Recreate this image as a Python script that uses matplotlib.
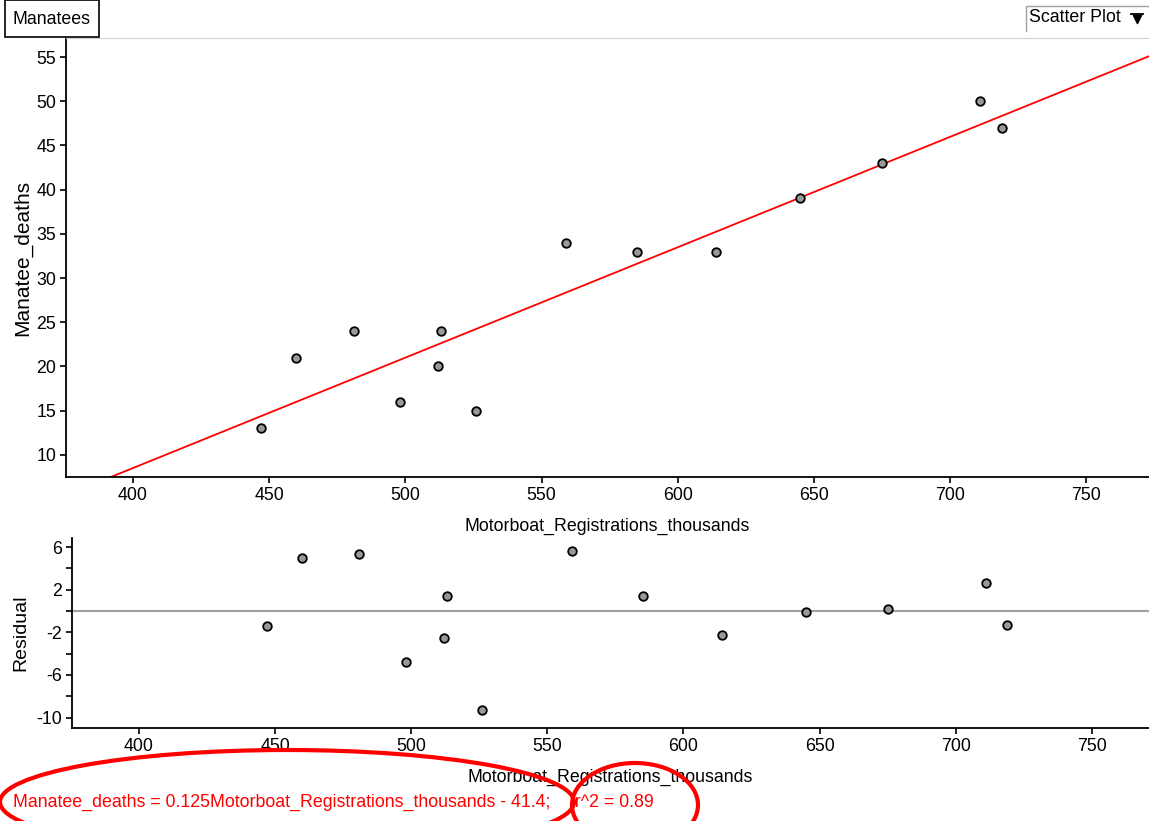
import numpy as np
import matplotlib
matplotlib.use("Agg")
import matplotlib.pyplot as plt
from matplotlib.patches import Ellipse, Rectangle
from matplotlib.ticker import FixedLocator, FixedFormatter

plt.rcParams['font.family'] = ['Liberation Sans', 'DejaVu Sans']

# Manatee deaths vs motorboat registrations (thousands)
boats = [447, 460, 481, 498, 513, 512, 526, 559, 585, 614, 645, 675, 711, 719]
deaths = [13, 21, 24, 16, 24, 20, 15, 34, 33, 33, 39, 43, 50, 47]
x_ticks = [400, 450, 500, 550, 600, 650, 700, 750]
y_ticks = [10, 15, 20, 25, 30, 35, 40, 45, 50, 55]
resid_ticks = [6, 4, 2, 0, -2, -4, -6, -8, -10]
resid_labels = ["6", "", "2", "", "-2", "", "-6", "", "-10"]

W, H = 1149, 821
FS = 12.8

def fit_line(x, y):
    # least squares fit, residuals and r^2
    x = np.asarray(x, float)
    y = np.asarray(y, float)
    slope, icpt = np.polyfit(x, y, 1)
    res = y - (slope * x + icpt)
    r2 = 1 - np.sum(res ** 2) / np.sum((y - y.mean()) ** 2)
    return slope, icpt, res, r2

def px_axes(fig, left, top, right, bottom):
    # add axes using pixel edges (origin at top left)
    return fig.add_axes([left / W, 1 - bottom / H, (right - left) / W, (bottom - top) / H])

def style_axes(ax):
    ax.spines['right'].set_visible(False)
    ax.spines['left'].set_linewidth(1.3)
    ax.spines['bottom'].set_linewidth(1.3)
    ax.tick_params(direction='out', length=4, width=1.2, labelsize=FS, pad=3)

slope, icpt, resid, r2 = fit_line(boats, deaths)

fig = plt.figure(figsize=(W / 100, H / 100), dpi=100)

# scatter plot with regression line
ax = px_axes(fig, 66, 38, W, 477)
style_axes(ax)
ax.spines['top'].set_color('#d0d0d0')
ax.set_xlim(375.4, 773)
ax.set_ylim(7.5, 57.15)
xs = np.array(ax.get_xlim())
ax.plot(xs, slope * xs + icpt, color='red', lw=1.3, zorder=2)
ax.scatter(boats, deaths, s=38, c='#999999', edgecolors='black', linewidths=1.3, zorder=3)
ax.set_xticks(x_ticks)
ax.set_yticks(y_ticks)
ax.set_xlabel('Motorboat_Registrations_thousands', fontsize=FS, labelpad=10)
ax.set_ylabel('Manatee_deaths', fontsize=15, labelpad=3)

# residual plot
ax2 = px_axes(fig, 72, 538, W, 728)
style_axes(ax2)
ax2.spines['top'].set_visible(False)
ax2.set_xlim(375.4, 771)
ax2.set_ylim(-10.98, 6.85)
ax2.axhline(0, color='#a0a0a0', lw=1.5, zorder=1)
ax2.scatter(boats, resid, s=38, c='#999999', edgecolors='black', linewidths=1.3, zorder=3)
ax2.set_xticks(x_ticks)
ax2.yaxis.set_major_locator(FixedLocator(resid_ticks))
ax2.yaxis.set_major_formatter(FixedFormatter(resid_labels))
ax2.set_xlabel('Motorboat_Registrations_thousands', fontsize=FS, labelpad=10)
ax2.set_ylabel('Residual', fontsize=14, labelpad=5)

# overlay in pixel units for header boxes, equation and hand-drawn circles
ov = fig.add_axes([0, 0, 1, 1], zorder=10)
ov.set_xlim(0, W)
ov.set_ylim(H, 0)
ov.axis('off')
ov.patch.set_alpha(0)

ov.add_patch(Rectangle((5, 0), 94, 37, facecolor='white', edgecolor='black', lw=1.2))
ov.text(51, 19, 'Manatees', ha='center', va='center', fontsize=FS)

ov.plot([1026, 1026, W], [31, 6, 6], color='#a0a0a0', lw=1)
ov.text(1029, 18, 'Scatter Plot', ha='left', va='center', fontsize=FS)
ov.plot([1131, 1143], [14.5, 14.5], color='black', lw=1.3)
ov.scatter([1137], [19.5], marker='v', s=35, color='black')

eq = (f"Manatee_deaths = {slope:.3f}Motorboat_Registrations_thousands"
      f" - {abs(icpt):.1f};     r^2 = {r2:.2f}")
ov.text(13, 802, eq, color='red', ha='left', va='center', fontsize=FS)

ov.add_patch(Ellipse((287, 802), 574, 104, angle=0, fill=False, edgecolor='red', lw=3))
ov.add_patch(Ellipse((635, 805), 126, 84, angle=0, fill=False, edgecolor='red', lw=3))

fig.savefig('out.png', dpi=100)
